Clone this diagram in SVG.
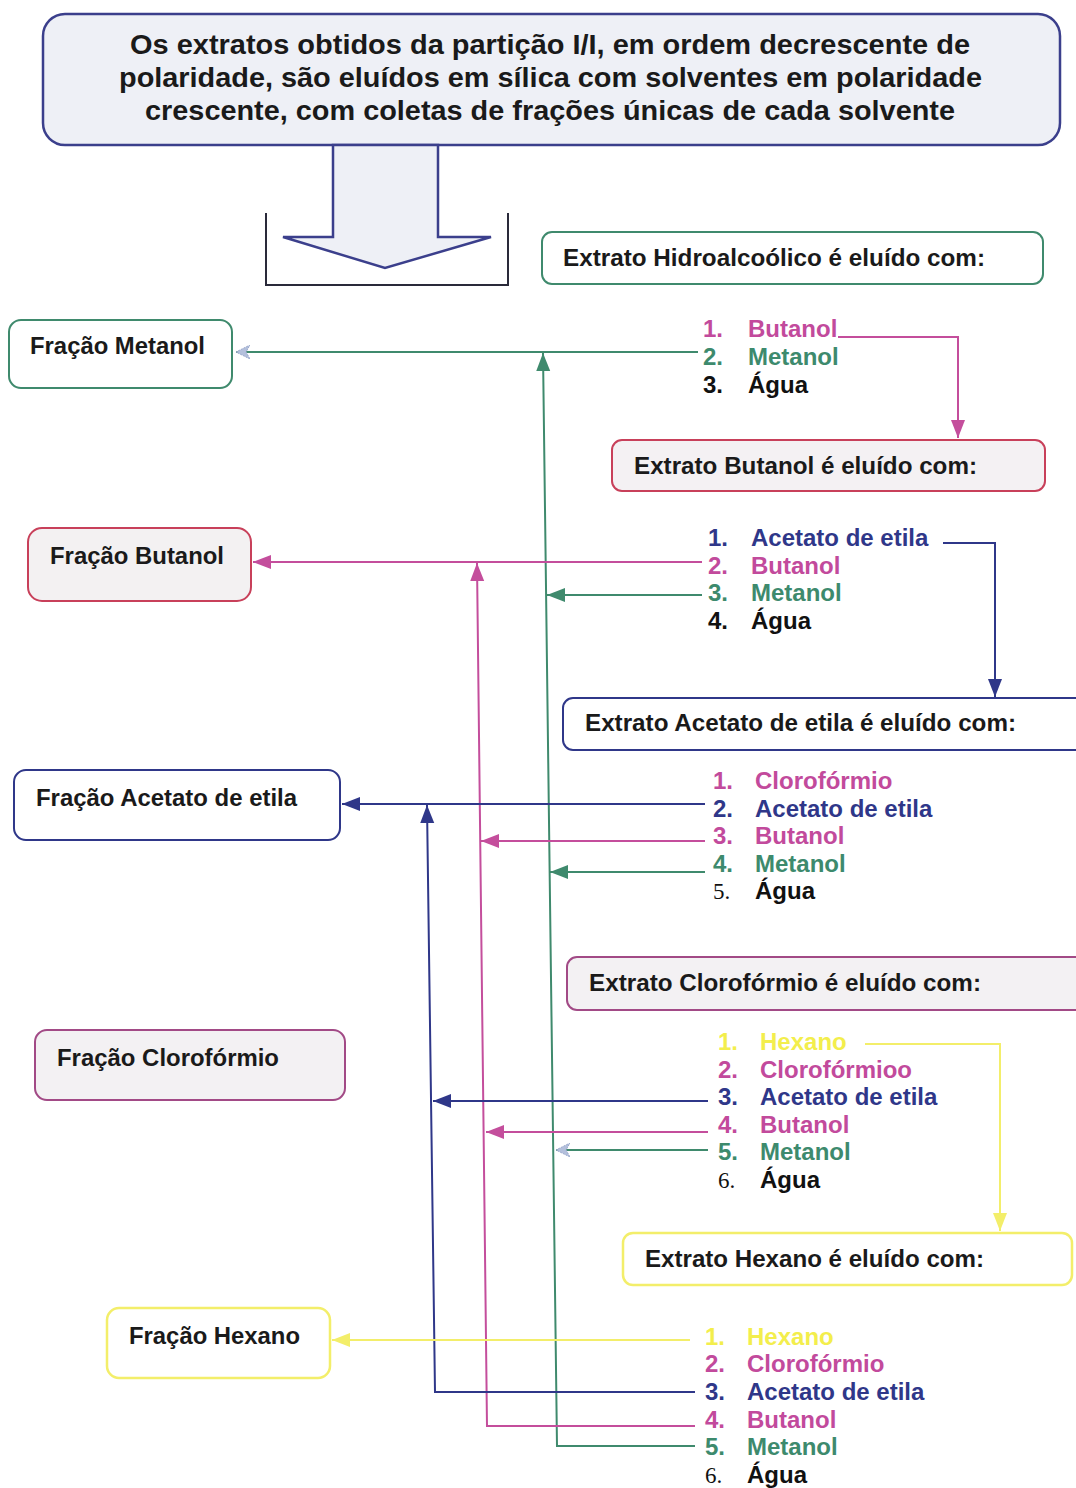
<svg xmlns="http://www.w3.org/2000/svg" width="1076" height="1488" viewBox="0 0 1076 1488">
<style>
.t{font-family:"Liberation Sans",Arial,sans-serif;font-weight:bold;fill:#1a1a1a}
.h{font-size:27px}
.b{font-size:24px}
.li{font-family:"Liberation Sans",Arial,sans-serif;font-weight:bold;font-size:24px}
.ser{font-family:"Liberation Serif","Times New Roman",serif;font-weight:normal;font-size:23px}
.cG{fill:#3d8a6d}.cM{fill:#c24a9c}.cN{fill:#2f3789}.cY{fill:#f3ee4c}.cK{fill:#111}
.lG{stroke:#3f8a6d}.lM{stroke:#c44e9c}.lN{stroke:#2f3789}.lY{stroke:#f3ee6a}
.ln{fill:none;stroke-width:2}
</style>
<defs>
<marker id="aG" markerUnits="userSpaceOnUse" markerWidth="20" markerHeight="16" refX="18" refY="8" orient="auto"><path d="M0,1 L18,8 L0,15 Z" fill="#3f8a6d"/></marker>
<marker id="aM" markerUnits="userSpaceOnUse" markerWidth="20" markerHeight="16" refX="18" refY="8" orient="auto"><path d="M0,1 L18,8 L0,15 Z" fill="#c44e9c"/></marker>
<marker id="aN" markerUnits="userSpaceOnUse" markerWidth="20" markerHeight="16" refX="18" refY="8" orient="auto"><path d="M0,1 L18,8 L0,15 Z" fill="#2f3789"/></marker>
<marker id="aY" markerUnits="userSpaceOnUse" markerWidth="20" markerHeight="16" refX="18" refY="8" orient="auto"><path d="M0,1 L18,8 L0,15 Z" fill="#f3ee6a"/></marker>
<marker id="aL" markerUnits="userSpaceOnUse" markerWidth="16" markerHeight="14" refX="14" refY="7" orient="auto"><path d="M0,0 L14,7 L0,14 L4,7 Z" fill="#b4c0dc" stroke="#9aa8cc" stroke-width="1" stroke-dasharray="2,1"/></marker>
</defs>

<g id="top">
<rect x="43" y="14" width="1017" height="131" rx="22" fill="#eef0f6" stroke="#3b3f8c" stroke-width="2.5"/>
<text class="t h" x="130" y="54" textLength="840" lengthAdjust="spacingAndGlyphs">Os extratos obtidos da partição I/I, em ordem decrescente de</text>
<text class="t h" x="119" y="87" textLength="863" lengthAdjust="spacingAndGlyphs">polaridade, são eluídos em sílica com solventes em polaridade</text>
<text class="t h" x="145" y="120" textLength="810" lengthAdjust="spacingAndGlyphs">crescente, com coletas de frações únicas de cada solvente</text>
</g>
<g id="bigArrow">
<polygon points="333,145 438,145 438,237 491,237 385,268 283,237 333,237" fill="#eef0f6" stroke="#3b3f8c" stroke-width="2.5"/>
<polyline points="266,213 266,285 508,285 508,213" fill="none" stroke="#2a2a3a" stroke-width="2"/>
</g>

<g id="hidro">
<rect x="542" y="232" width="501" height="52" rx="10" fill="#fff" stroke="#3f8a6d" stroke-width="2"/>
<text class="t b" x="563" y="266" textLength="422" lengthAdjust="spacingAndGlyphs">Extrato Hidroalcoólico é eluído com:</text>
</g>
<g id="fracMetanol">
<rect x="9" y="320" width="223" height="68" rx="12" fill="#fff" stroke="#3f8a6d" stroke-width="2"/>
<text class="t b" x="30" y="354" textLength="175" lengthAdjust="spacingAndGlyphs">Fração Metanol</text>
</g>
<g id="list1" class="li">
<text x="703" y="337" class="cM">1.</text><text x="748" y="337" class="cM">Butanol</text>
<text x="703" y="365" class="cG">2.</text><text x="748" y="365" class="cG">Metanol</text>
<text x="703" y="393" class="cK">3.</text><text x="748" y="393" class="cK">Água</text>
</g>

<g id="butanolBox">
<rect x="612" y="440" width="433" height="51" rx="10" fill="#f4f1f3" stroke="#c8405a" stroke-width="2"/>
<text class="t b" x="634" y="474" textLength="343" lengthAdjust="spacingAndGlyphs">Extrato Butanol é eluído com:</text>
</g>
<g id="fracButanol">
<rect x="28" y="528" width="223" height="73" rx="14" fill="#f3f1f2" stroke="#c8405a" stroke-width="2"/>
<text class="t b" x="50" y="564" textLength="174" lengthAdjust="spacingAndGlyphs">Fração Butanol</text>
</g>
<g id="list2" class="li">
<text x="708" y="546" class="cN">1.</text><text x="751" y="546" class="cN">Acetato de etila</text>
<text x="708" y="574" class="cM">2.</text><text x="751" y="574" class="cM">Butanol</text>
<text x="708" y="601" class="cG">3.</text><text x="751" y="601" class="cG">Metanol</text>
<text x="708" y="629" class="cK">4.</text><text x="751" y="629" class="cK">Água</text>
</g>

<g id="acetatoBox">
<rect x="563" y="698" width="530" height="52" rx="10" fill="#fff" stroke="#2f3789" stroke-width="2"/>
<text class="t b" x="585" y="731" textLength="431" lengthAdjust="spacingAndGlyphs">Extrato Acetato de etila é eluído com:</text>
</g>
<g id="fracAcetato">
<rect x="14" y="770" width="326" height="70" rx="12" fill="#fff" stroke="#2f3789" stroke-width="2"/>
<text class="t b" x="36" y="806" textLength="261" lengthAdjust="spacingAndGlyphs">Fração Acetato de etila</text>
</g>
<g id="list3" class="li">
<text x="713" y="789" class="cM">1.</text><text x="755" y="789" class="cM">Clorofórmio</text>
<text x="713" y="817" class="cN">2.</text><text x="755" y="817" class="cN">Acetato de etila</text>
<text x="713" y="844" class="cM">3.</text><text x="755" y="844" class="cM">Butanol</text>
<text x="713" y="872" class="cG">4.</text><text x="755" y="872" class="cG">Metanol</text>
<text x="713" y="899" class="ser cK">5.</text><text x="755" y="899" class="cK">Água</text>
</g>

<g id="cloroBox">
<rect x="567" y="957" width="530" height="53" rx="10" fill="#f3f1f3" stroke="#a24a86" stroke-width="2"/>
<text class="t b" x="589" y="991" textLength="392" lengthAdjust="spacingAndGlyphs">Extrato Clorofórmio é eluído com:</text>
</g>
<g id="fracCloro">
<rect x="35" y="1030" width="310" height="70" rx="12" fill="#f3f1f3" stroke="#a24a86" stroke-width="2"/>
<text class="t b" x="57" y="1066" textLength="222" lengthAdjust="spacingAndGlyphs">Fração Clorofórmio</text>
</g>
<g id="list4" class="li">
<text x="718" y="1050" class="cY">1.</text><text x="760" y="1050" class="cY">Hexano</text>
<text x="718" y="1078" class="cM">2.</text><text x="760" y="1078" class="cM">Clorofórmioo</text>
<text x="718" y="1105" class="cN">3.</text><text x="760" y="1105" class="cN">Acetato de etila</text>
<text x="718" y="1133" class="cM">4.</text><text x="760" y="1133" class="cM">Butanol</text>
<text x="718" y="1160" class="cG">5.</text><text x="760" y="1160" class="cG">Metanol</text>
<text x="718" y="1188" class="ser cK">6.</text><text x="760" y="1188" class="cK">Água</text>
</g>

<g id="hexanoBox">
<rect x="623" y="1233" width="449" height="52" rx="10" fill="#fff" stroke="#f3ee6a" stroke-width="2.5"/>
<text class="t b" x="645" y="1267" textLength="339" lengthAdjust="spacingAndGlyphs">Extrato Hexano é eluído com:</text>
</g>
<g id="fracHexano">
<rect x="107" y="1308" width="223" height="70" rx="12" fill="#fff" stroke="#f3ee6a" stroke-width="2.5"/>
<text class="t b" x="129" y="1344" textLength="171" lengthAdjust="spacingAndGlyphs">Fração Hexano</text>
</g>
<g id="list5" class="li">
<text x="705" y="1345" class="cY">1.</text><text x="747" y="1345" class="cY">Hexano</text>
<text x="705" y="1372" class="cM">2.</text><text x="747" y="1372" class="cM">Clorofórmio</text>
<text x="705" y="1400" class="cN">3.</text><text x="747" y="1400" class="cN">Acetato de etila</text>
<text x="705" y="1428" class="cM">4.</text><text x="747" y="1428" class="cM">Butanol</text>
<text x="705" y="1455" class="cG">5.</text><text x="747" y="1455" class="cG">Metanol</text>
<text x="705" y="1483" class="ser cK">6.</text><text x="747" y="1483" class="cK">Água</text>
</g>

<g id="connectors">
<path class="ln lG" d="M698,352 H236" marker-end="url(#aL)"/>
<path class="ln lG" d="M695,1446 H557 L543,353" marker-end="url(#aG)"/>
<path class="ln lG" d="M702,595 H547" marker-end="url(#aG)"/>
<path class="ln lG" d="M705,872 H550" marker-end="url(#aG)"/>
<path class="ln lG" d="M708,1150 H556" marker-end="url(#aL)"/>
<path class="ln lM" d="M838,337 H958 V438" marker-end="url(#aM)"/>
<path class="ln lM" d="M702,562 H253" marker-end="url(#aM)"/>
<path class="ln lM" d="M695,1426 H487 L477,563" marker-end="url(#aM)"/>
<path class="ln lM" d="M705,841 H481" marker-end="url(#aM)"/>
<path class="ln lM" d="M708,1132 H486" marker-end="url(#aM)"/>
<path class="ln lN" d="M943,543 H995 V697" marker-end="url(#aN)"/>
<path class="ln lN" d="M705,804 H342" marker-end="url(#aN)"/>
<path class="ln lN" d="M695,1392 H435 L427,805" marker-end="url(#aN)"/>
<path class="ln lN" d="M708,1101 H433" marker-end="url(#aN)"/>
<path class="ln lY" d="M865,1044 H1000 V1231" marker-end="url(#aY)"/>
<path class="ln lY" d="M690,1340 H332" marker-end="url(#aY)"/>
</g>
</svg>
